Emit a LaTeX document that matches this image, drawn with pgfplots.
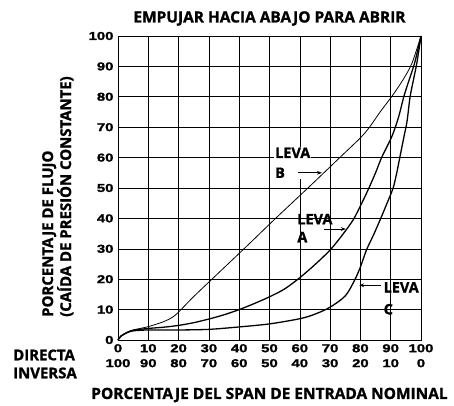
\documentclass[border=0pt]{standalone}
\usepackage{fontspec}
\setmainfont{Open Sans}[BoldFeatures={FakeBold=1.2}]
\newfontfamily\numfont[FakeStretch=1.3, BoldFeatures={FakeBold=1.5}]{Liberation Sans}
\usepackage{pgfplots}
\pgfplotsset{compat=1.18}
\usetikzlibrary{arrows.meta}
\begin{document}
\begin{tikzpicture}
\begin{axis}[
  width=303bp, height=304bp, scale only axis,
  xmin=0, xmax=100, ymin=0, ymax=100,
  xtick={0,10,...,100}, ytick={0,10,...,100},
  /pgf/number format/assume math mode=true,
  xticklabels={{0\\100},{10\\90},{20\\80},{30\\70},{40\\60},{50\\50},{60\\40},{70\\30},{80\\20},{90\\10},{100\\0}},
  yticklabels={0,10,20,30,40,50,60,70,80,90,100},
  x tick label style={align=center, font=\numfont\bfseries\fontsize{11.5}{15}\selectfont, inner sep=1pt, yshift=-3bp},
  y tick label style={font=\numfont\bfseries\fontsize{11.5}{14}\selectfont, xshift=-1bp},
  grid=major,
  major grid style={black, line width=0.6pt},
  axis line style={black, line width=0.8pt},
  major tick length=0pt,
  clip=false,
]
\path ([xshift=-118bp,yshift=-66bp]rel axis cs:0,0) rectangle ([xshift=33bp,yshift=36bp]rel axis cs:1,1);
% Leva B
\addplot[black, line width=0.8pt, smooth, tension=0.5] coordinates {
 (0,0) (1,1.3) (3,2.5) (5,3.3) (10,4.4) (15,6) (18,7.5) (20,9.2) (25,14.3) (31,20)
 (42,30.4) (52,40) (63,50.3) (73.5,60.3) (80,66.5) (83,70) (86.5,75) (90.5,80.3) (94,85.5) (97,91) (100,100)};
% Leva A
\addplot[black, line width=1.3pt, smooth, tension=0.5] coordinates {
 (0,0) (1,1.3) (3,2.5) (5,3.2) (10,3.8) (15,4.2) (20,4.8) (25,5.7) (30,6.9) (35,8.3) (40,10)
 (45,12) (50,14.2) (55,16.8) (60,20.5) (65,24.8) (70,29.6) (74,34.5) (77.6,39.5) (80.2,44.5) (82.5,49.3)
 (85,55) (87,60) (90.4,67) (92.5,73) (94.4,80.3) (96.4,86.5) (98,91.5) (100,100)};
% Leva C
\addplot[black, line width=1.3pt, smooth, tension=0.5] coordinates {
 (0,0) (1,1.3) (3,2.4) (5,3) (10,3.3) (20,3.3) (30,3.5) (40,4.3) (50,5.3) (60,7) (65,8.5)
 (70,10.8) (75,14.5) (78,19.5) (80,24) (82,29.6) (84.3,34.5) (86.5,39.5) (88.8,45) (90.8,50)
 (92,55) (93,60) (94.4,67) (95.4,72) (96.4,80) (97.6,86) (98.7,91.5) (100,100)};
% annotations
\node[anchor=west, align=left, font=\bfseries\fontsize{14.5}{20}\selectfont, inner sep=1pt, fill=white] at (axis cs:51.5,58.3) {LEVA\\B};
\draw[-{Stealth[length=5pt]}, line width=0.7pt] (axis cs:59.5,55) -- (axis cs:67.3,55);
\node[anchor=west, align=left, font=\bfseries\fontsize{14.5}{18}\selectfont, inner sep=1pt] at (axis cs:58.8,36.8) {LEVA\\A};
\draw[-{Stealth[length=5pt]}, line width=0.7pt] (axis cs:68,36.5) -- (axis cs:75.2,36.5);
\node[anchor=west, align=left, font=\bfseries\fontsize{14.5}{22}\selectfont, inner sep=1pt] at (axis cs:87.3,13.7) {LEVA\\C};
\draw[-{Stealth[length=5pt]}, line width=0.7pt] (axis cs:86.8,18) -- (axis cs:79.6,18);
% outer labels
\node[font=\bfseries\fontsize{15.5}{18}\selectfont] at ([yshift=17.5bp]rel axis cs:0.5,1) {EMPUJAR HACIA ABAJO PARA ABRIR};
\node[font=\bfseries\fontsize{15.5}{18}\selectfont] at ([yshift=-55bp]rel axis cs:0.5,0) {PORCENTAJE DEL SPAN DE ENTRADA NOMINAL};
\node[font=\bfseries\fontsize{15}{18}\selectfont, anchor=west, inner sep=0pt] at ([xshift=-105bp, yshift=-15bp]rel axis cs:0,0) {DIRECTA};
\node[font=\bfseries\fontsize{15}{18}\selectfont, anchor=west, inner sep=0pt] at ([xshift=-105bp, yshift=-33bp]rel axis cs:0,0) {INVERSA};
\node[rotate=90, anchor=north west, align=left, inner sep=0pt, font=\bfseries\fontsize{15}{13.5}\selectfont] at ([xshift=-76bp, yshift=23bp]rel axis cs:0,0) {PORCENTAJE DE FLUJO\\(CAÍDA DE PRESIÓN CONSTANTE)};
\end{axis}
\end{tikzpicture}
\end{document}
